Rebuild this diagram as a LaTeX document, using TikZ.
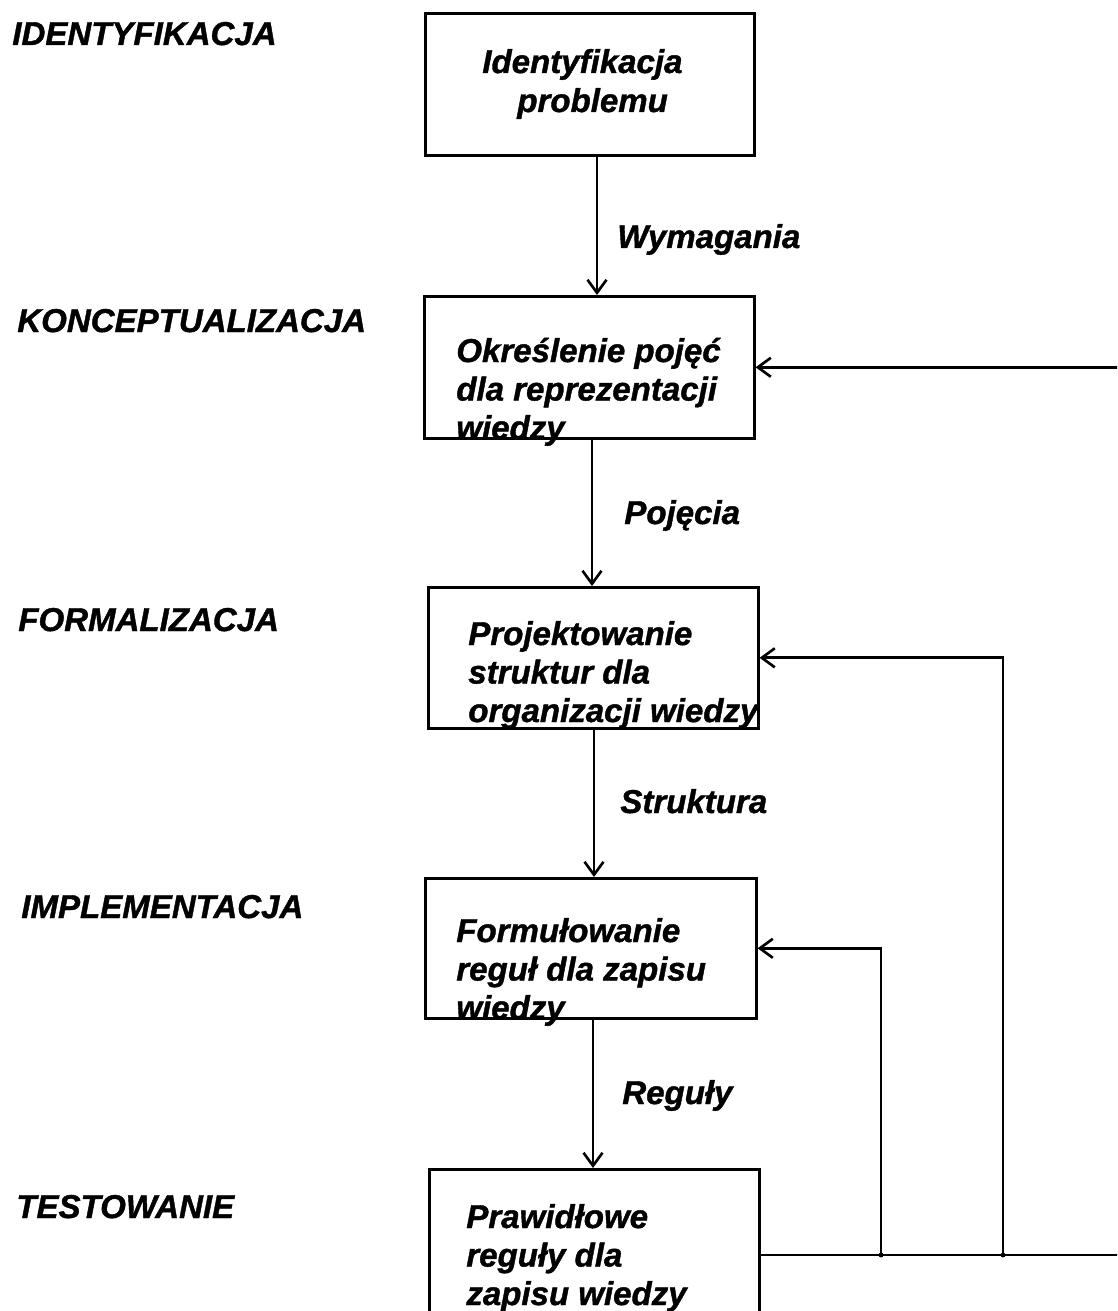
\documentclass[tikz,border=0pt]{standalone}
\usepackage{fontspec}
\setmainfont{Liberation Sans}[BoldItalicFeatures={FakeBold=1.2}]
\usetikzlibrary{arrows.meta}
\begin{document}
\begin{tikzpicture}[x=0.02cm,y=-0.02cm,
  txt/.style={font=\fontsize{18.8}{22}\selectfont\bfseries\itshape, inner sep=0pt, anchor=base west},
  box/.style={draw, line width=1.5pt, anchor=north west, inner sep=0pt},
  link/.style={line width=1.5pt},
  arr/.style={link, -{Straight Barb[length=0.26cm,width=0.38cm,line width=1.5pt]}}]
\useasboundingbox (0,0) rectangle (1117,1311);
\clip (0,0) rectangle (1117,1311);

% phase names on the left
\node[txt] (p1) at (12,45)   {IDENTYFIKACJA};
\node[txt] (p2) at (17,332)  {KONCEPTUALIZACJA};
\node[txt] (p3) at (18,631)  {FORMALIZACJA};
\node[txt] (p4) at (21,918)  {IMPLEMENTACJA};
\node[txt] (p5) at (16,1218) {TESTOWANIE};

% process boxes
\node[box, minimum width=6.58cm, minimum height=2.84cm] (b1) at (424,12) {};
\node[box, minimum width=6.60cm, minimum height=2.84cm] (b2) at (423,295) {};
\node[box, minimum width=6.60cm, minimum height=2.82cm] (b3) at (427,586) {};
\node[box, minimum width=6.62cm, minimum height=2.80cm] (b4) at (424,877) {};
\node[box, minimum width=6.60cm, minimum height=3.44cm] (b5) at (428,1168) {};

% box texts, one line per node
\node[txt] (t1a) at (482,73)  {Identyfikacja};
\node[txt] (t1b) at (517,112) {problemu};

\node[txt] (t2a) at (456,362)   {Określenie pojęć};
\node[txt] (t2b) at (456,400.5) {dla reprezentacji};
\node[txt] (t2c) at (456,439)   {wiedzy};

\node[txt] (t3a) at (468,645)   {Projektowanie};
\node[txt] (t3b) at (468,683.5) {struktur dla};
\node[txt] (t3c) at (468,722)   {organizacji wiedzy};

\node[txt] (t4a) at (456,942)   {Formułowanie};
\node[txt] (t4b) at (456,980.5) {reguł dla zapisu};
\node[txt] (t4c) at (456,1019)  {wiedzy};

\node[txt] (t5a) at (466,1228)   {Prawidłowe};
\node[txt] (t5b) at (466,1266.5) {reguły dla};
\node[txt] (t5c) at (466,1305)   {zapisu wiedzy};

% main flow
\coordinate (c1) at (597,0);
\coordinate (c2) at (592,0);
\coordinate (c3) at (594,0);
\coordinate (c4) at (593,0);
\draw[arr] (b1.south -| c1) -- (b2.north -| c1);
\draw[arr] (b2.south -| c2) -- (b3.north -| c2);
\draw[arr] (b3.south -| c3) -- (b4.north -| c3);
\draw[arr] (b4.south -| c4) -- (b5.north -| c4);

\node[txt] (l1) at (617,248)  {Wymagania};
\node[txt] (l2) at (624,524)  {Pojęcia};
\node[txt] (l3) at (620,813)  {Struktura};
\node[txt] (l4) at (622,1104) {Reguły};

% feedback from testing
\coordinate (j1) at (881,1255);
\coordinate (j2) at (1003,1255);
\coordinate (j3) at (1135,1255);
\draw[link] (b5.east |- j1) -- (j3);
\draw[arr] (j3) |- (b2.east);
\draw[arr] (j2) |- (b3.east);
\draw[arr] (j1) |- (b4.east);
\fill (j1) circle (1.4pt);
\fill (j2) circle (1.4pt);
\end{tikzpicture}
\end{document}
